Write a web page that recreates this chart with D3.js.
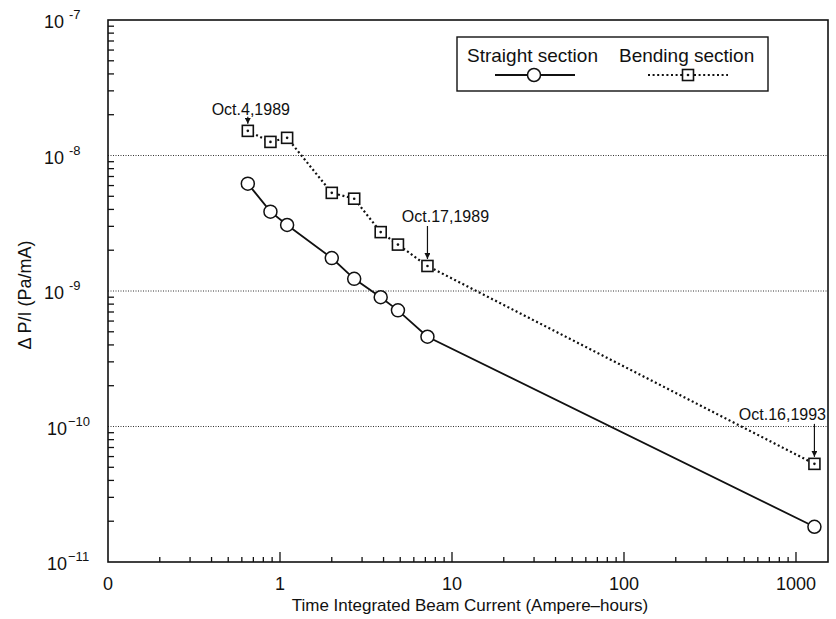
<!DOCTYPE html>
<html>
<head>
<meta charset="utf-8">
<script src="https://cdn.jsdelivr.net/npm/d3@7"></script>
<style>
  html, body { margin: 0; padding: 0; background: #fff; }
  svg { display: block; font-family: "Liberation Sans", Arial, sans-serif; }
</style>
</head>
<body>
<div id="chart"></div>
<script>
// Pressure rise per beam current against integrated beam dose, log-log.

const doses = [0.65, 0.88, 1.1, 2.0, 2.7, 3.85, 4.85, 7.2, 1280];
const straightValues = [6.2e-9, 3.85e-9, 3.07e-9, 1.75e-9, 1.23e-9, 9.0e-10, 7.2e-10, 4.6e-10, 1.82e-11];
const bendingValues = [1.52e-8, 1.26e-8, 1.35e-8, 5.3e-9, 4.8e-9, 2.72e-9, 2.2e-9, 1.53e-9, 5.3e-11];

const xTickValues = [0.1, 1, 10, 100, 1000];
const xTickLabels = ["0", "1", "10", "100", "1000"];
const yTickExponents = [-7, -8, -9, -10, -11];
const gridExponents = [-8, -9, -10];

const annotations = [
  { label: "Oct.4,1989", index: 0 },
  { label: "Oct.17,1989", index: 7 },
  { label: "Oct.16,1993", index: 8 }
];

const W = 836;
const H = 619;
const plotL = 108, plotR = 828, plotT = 20, plotB = 562;

const x = d3.scaleLog().domain([0.1, 1535]).range([plotL, plotR]);
const y = d3.scaleLog().domain([1e-11, 1e-7]).range([plotB, plotT]);

const svg = d3.select("#chart")
  .append("svg")
  .attr("width", W)
  .attr("height", H)
  .attr("viewBox", `0 0 ${W} ${H}`);

svg.append("defs").append("marker")
  .attr("id", "arrow")
  .attr("viewBox", "0 0 10 10")
  .attr("refX", 10)
  .attr("refY", 5)
  .attr("markerWidth", 6)
  .attr("markerHeight", 6)
  .attr("markerUnits", "userSpaceOnUse")
  .attr("orient", "auto")
  .append("path")
  .attr("d", "M0,0 L10,5 L0,10 Z")
  .attr("fill", "#111");

// dotted gridlines at the inner decades
svg.selectAll("line.grid")
  .data(gridExponents)
  .join("line")
  .attr("class", "grid")
  .attr("x1", plotL)
  .attr("x2", plotR)
  .attr("y1", (d) => y(Math.pow(10, d)))
  .attr("y2", (d) => y(Math.pow(10, d)))
  .attr("stroke", "#333")
  .attr("stroke-width", 1)
  .attr("stroke-dasharray", "1,1.5");

// frame
svg.append("rect")
  .attr("x", plotL)
  .attr("y", plotT)
  .attr("width", plotR - plotL)
  .attr("height", plotB - plotT)
  .attr("fill", "none")
  .attr("stroke", "#111")
  .attr("stroke-width", 1.6);

// minor + major ticks, drawn inward
const yMinor = [];
for (let e = -11; e < -7; e++) {
  for (let m = 2; m <= 9; m++) yMinor.push(m * Math.pow(10, e));
}
svg.selectAll("line.ytick")
  .data(yMinor)
  .join("line")
  .attr("class", "ytick")
  .attr("x1", plotL)
  .attr("x2", plotL + 6)
  .attr("y1", (d) => y(d))
  .attr("y2", (d) => y(d))
  .attr("stroke", "#111")
  .attr("stroke-width", 1.3);

const xMinor = [];
for (let e = -1; e <= 3; e++) {
  for (let m = 2; m <= 9; m++) {
    const v = m * Math.pow(10, e);
    if (v < x.domain()[1]) xMinor.push(v);
  }
}
svg.selectAll("line.xminor")
  .data(xMinor)
  .join("line")
  .attr("class", "xminor")
  .attr("x1", (d) => x(d))
  .attr("x2", (d) => x(d))
  .attr("y1", plotB)
  .attr("y2", plotB - 5)
  .attr("stroke", "#111")
  .attr("stroke-width", 1.3);
svg.selectAll("line.xmajor")
  .data(xTickValues.slice(1))
  .join("line")
  .attr("class", "xmajor")
  .attr("x1", (d) => x(d))
  .attr("x2", (d) => x(d))
  .attr("y1", plotB)
  .attr("y2", plotB - 10)
  .attr("stroke", "#111")
  .attr("stroke-width", 1.3);

// tick labels
svg.selectAll("text.xlabel")
  .data(xTickValues)
  .join("text")
  .attr("class", "xlabel")
  .attr("x", (d) => x(d))
  .attr("y", plotB + 28)
  .attr("text-anchor", "middle")
  .attr("font-size", 18)
  .attr("fill", "#111")
  .text((d, i) => xTickLabels[i]);

const yl = svg.selectAll("text.ylabel")
  .data(yTickExponents)
  .join("text")
  .attr("class", "ylabel")
  .attr("x", (d) => (d <= -10 ? 47 : 44))
  .attr("y", (d) => y(Math.pow(10, d)) + 8)
  .attr("font-size", 18)
  .attr("fill", "#111");
yl.append("tspan").text("10");
yl.append("tspan")
  .attr("dx", (d) => (d <= -10 ? 1 : 5))
  .attr("dy", -9)
  .attr("font-size", 13)
  .text((d) => (d <= -10 ? "\u2212" : "-") + Math.abs(d));

// axis titles
svg.append("text")
  .attr("x", (plotL + plotR) / 2 + 2)
  .attr("y", 611)
  .attr("text-anchor", "middle")
  .attr("font-size", 17)
  .attr("fill", "#111")
  .text("Time Integrated Beam Current (Ampere\u2013hours)");

svg.append("text")
  .attr("transform", `translate(31, ${(plotT + plotB) / 2 + 4}) rotate(-90)`)
  .attr("text-anchor", "middle")
  .attr("font-size", 18)
  .attr("fill", "#111")
  .text("\u0394 P/I (Pa/mA)");

// series
const straight = doses.map((d, i) => ({ x: d, y: straightValues[i] }));
const bending = doses.map((d, i) => ({ x: d, y: bendingValues[i] }));
const line = d3.line().x((d) => x(d.x)).y((d) => y(d.y));

svg.append("path")
  .attr("d", line(bending))
  .attr("fill", "none")
  .attr("stroke", "#111")
  .attr("stroke-width", 2.2)
  .attr("stroke-dasharray", "2,2.6");

svg.append("path")
  .attr("d", line(straight))
  .attr("fill", "none")
  .attr("stroke", "#111")
  .attr("stroke-width", 1.8);

const sq = 11;
function drawSquare(g, cx, cy) {
  g.append("rect")
    .attr("x", cx - sq / 2)
    .attr("y", cy - sq / 2)
    .attr("width", sq)
    .attr("height", sq)
    .attr("fill", "#fff")
    .attr("stroke", "#111")
    .attr("stroke-width", 1.6);
  g.append("circle")
    .attr("cx", cx)
    .attr("cy", cy)
    .attr("r", 1.3)
    .attr("fill", "#111");
}
function drawCircle(g, cx, cy) {
  g.append("circle")
    .attr("cx", cx)
    .attr("cy", cy)
    .attr("r", 6.5)
    .attr("fill", "#fff")
    .attr("stroke", "#111")
    .attr("stroke-width", 1.5);
}

const marks = svg.append("g");
bending.forEach((d) => drawSquare(marks, x(d.x), y(d.y)));
straight.forEach((d) => drawCircle(marks, x(d.x), y(d.y)));

// date annotations with arrows down onto the bending points
const ann = svg.selectAll("g.ann")
  .data(annotations)
  .join("g")
  .attr("class", "ann");
ann.append("line")
  .attr("x1", (d) => x(doses[d.index]))
  .attr("x2", (d) => x(doses[d.index]))
  .attr("y1", (d) => y(bendingValues[d.index]) - (d.index === 0 ? 14 : 40))
  .attr("y2", (d) => y(bendingValues[d.index]) - 7)
  .attr("stroke", "#111")
  .attr("stroke-width", 1.2)
  .attr("marker-end", "url(#arrow)");
ann.append("text")
  .attr("x", (d) => x(doses[d.index]) + (d.index === 8 ? -32 : d.index === 7 ? 18 : 3))
  .attr("y", (d) => y(bendingValues[d.index]) - (d.index === 0 ? 16 : 44))
  .attr("text-anchor", "middle")
  .attr("font-size", 16)
  .attr("fill", "#111")
  .text((d) => d.label);

// legend
const lg = svg.append("g");
lg.append("rect")
  .attr("x", 457)
  .attr("y", 37)
  .attr("width", 311)
  .attr("height", 54)
  .attr("fill", "#fff")
  .attr("stroke", "#111")
  .attr("stroke-width", 1.4);
lg.append("text")
  .attr("x", 467)
  .attr("y", 62)
  .attr("font-size", 19)
  .attr("fill", "#111")
  .text("Straight section");
lg.append("text")
  .attr("x", 619)
  .attr("y", 62)
  .attr("font-size", 19)
  .attr("fill", "#111")
  .text("Bending section");
lg.append("line")
  .attr("x1", 495).attr("x2", 575)
  .attr("y1", 75).attr("y2", 75)
  .attr("stroke", "#111")
  .attr("stroke-width", 1.8);
drawCircle(lg, 534, 75);
lg.append("line")
  .attr("x1", 648).attr("x2", 728)
  .attr("y1", 75).attr("y2", 75)
  .attr("stroke", "#111")
  .attr("stroke-width", 2.2)
  .attr("stroke-dasharray", "2,2.6");
drawSquare(lg, 688, 75);
</script>
</body>
</html>
